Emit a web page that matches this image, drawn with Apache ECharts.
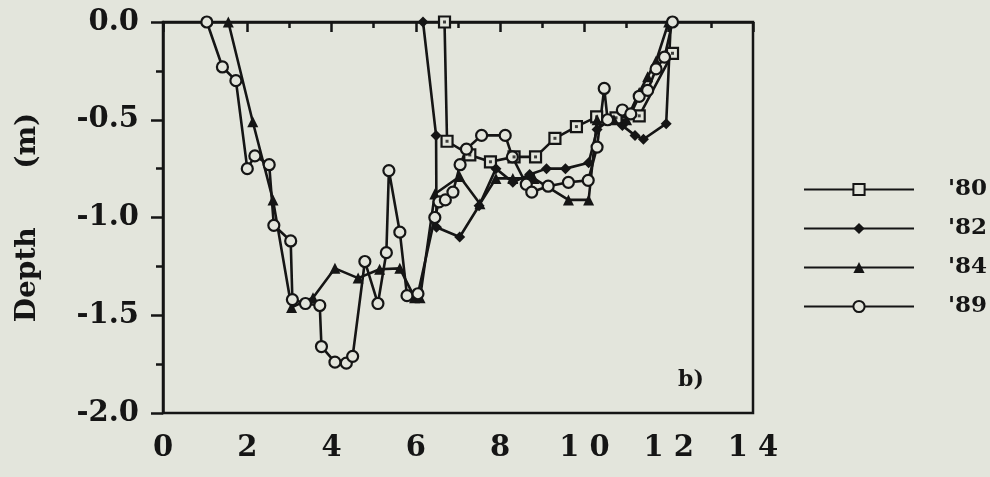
<!DOCTYPE html>
<html>

<head>
    <meta charset="utf-8" />
    <script src="https://cdn.jsdelivr.net/npm/echarts@6/dist/echarts.min.js"></script>
    <style>
        html, body { margin: 0; padding: 0; background: #e3e5dc; }
    </style>
</head>

<body>
    <div id="main" style="width: 990px; height: 477px;"></div>
    <script type="text/javascript">
        // distance along the transect and depth (m), one pair of arrays per year
        var x80 = [6.68, 6.74, 7.28, 7.77, 8.33, 8.84, 9.3, 9.81, 10.29, 10.75, 11.3, 12.09];
        var y80 = [0, -0.61, -0.68, -0.715, -0.69, -0.69, -0.595, -0.535, -0.485, -0.49, -0.48, -0.16];

        var x82 = [6.17, 6.48, 6.49, 7.04, 7.5, 7.9, 8.3, 8.7, 9.1, 9.55, 10.1, 10.3, 10.6, 10.9, 11.2, 11.4, 11.94, 12.05];
        var y82 = [0, -0.58, -1.05, -1.1, -0.94, -0.75, -0.82, -0.78, -0.75, -0.75, -0.72, -0.55, -0.5, -0.53, -0.58, -0.6, -0.52, 0];

        var x84 = [1.55, 2.13, 2.61, 3.05, 3.56, 4.08, 4.63, 5.14, 5.62, 5.97, 6.1, 6.45, 7.04, 7.52, 7.9, 8.3, 8.8, 9.62, 10.1, 10.3, 10.7, 11.0, 11.3, 11.5, 11.7, 12.0];
        var y84 = [0, -0.51, -0.91, -1.46, -1.41, -1.26, -1.31, -1.265, -1.26, -1.41, -1.41, -0.88, -0.79, -0.93, -0.8, -0.8, -0.8, -0.91, -0.91, -0.5, -0.5, -0.5, -0.36, -0.28, -0.2, 0];

        var x89 = [1.04, 1.41, 1.73, 2.0, 2.18, 2.52, 2.63, 3.03, 3.07, 3.38, 3.72, 3.76, 4.08, 4.35, 4.5, 4.79, 5.1, 5.3, 5.36, 5.62, 5.79, 6.05, 6.45, 6.55, 6.7, 6.88, 7.05, 7.2, 7.56, 8.12, 8.29, 8.62, 8.75, 9.14, 9.62, 10.09, 10.3, 10.47, 10.55, 10.9, 11.1, 11.3, 11.5, 11.7, 11.9, 12.09];
        var y89 = [0, -0.23, -0.3, -0.75, -0.685, -0.73, -1.04, -1.12, -1.42, -1.44, -1.45, -1.66, -1.74, -1.745, -1.71, -1.225, -1.44, -1.18, -0.76, -1.075, -1.4, -1.39, -1.0, -0.92, -0.91, -0.87, -0.73, -0.65, -0.58, -0.58, -0.69, -0.83, -0.87, -0.84, -0.82, -0.81, -0.64, -0.34, -0.5, -0.45, -0.47, -0.38, -0.35, -0.24, -0.18, 0];

        var years = ["'80", "'82", "'84", "'89"];
        var xLabels = ['0', '2', '4', '6', '8', '1 0', '1 2', '1 4'];
        var yLabels = ['-2.0', '-1.5', '-1.0', '-0.5', '0.0'];

        var bg = '#e3e5dc';
        var ink = '#151515';
        var font = 'DejaVu Serif';

        function pairs(xs, ys) {
            return xs.map(function (x, i) { return [x, ys[i]]; });
        }

        function lineSeries(name, xs, ys, symbol, filled) {
            return {
                name: name,
                type: 'line',
                data: pairs(xs, ys),
                symbol: symbol,
                symbolSize: 11,
                showSymbol: true,
                lineStyle: { color: ink, width: 2.6 },
                itemStyle: filled
                    ? { color: ink, borderColor: ink, borderWidth: 0 }
                    : { color: bg, borderColor: ink, borderWidth: 2.2 },
                z: 3
            };
        }

        var myChart = echarts.init(document.getElementById('main'));

        var option = {
            backgroundColor: bg,
            animation: false,
            grid: {
                left: 163, right: 237, top: 22, bottom: 64,
                show: true, borderColor: ink, borderWidth: 2.5, backgroundColor: 'transparent'
            },
            xAxis: {
                type: 'value', min: 0, max: 14, interval: 2,
                axisLine: { show: true, lineStyle: { color: ink, width: 2.5 } },
                axisTick: { show: true, inside: false, length: 10, lineStyle: { color: ink, width: 2.5 } },
                minorTick: { show: true, splitNumber: 2, length: 6, lineStyle: { color: ink, width: 2.5 } },
                splitLine: { show: false },
                axisLabel: {
                    margin: 21, color: ink, fontFamily: font, fontWeight: 'bold', fontSize: 29,
                    formatter: function (v) { return xLabels[Math.round(v / 2)]; }
                }
            },
            yAxis: {
                type: 'value', min: -2, max: 0, interval: 0.5,
                name: 'Depth      (m)', nameLocation: 'middle', nameRotate: 90, nameGap: 121,
                nameTextStyle: { color: ink, fontFamily: font, fontWeight: 'bold', fontSize: 28 },
                axisLine: { show: true, lineStyle: { color: ink, width: 2.5 } },
                axisTick: { show: true, inside: false, length: 12, lineStyle: { color: ink, width: 2.5 } },
                minorTick: { show: true, splitNumber: 2, length: 7, lineStyle: { color: ink, width: 2.5 } },
                splitLine: { show: false },
                axisLabel: {
                    margin: 24, color: ink, fontFamily: font, fontWeight: 'bold', fontSize: 29,
                    formatter: function (v) { return yLabels[Math.round((v + 2) / 0.5)]; }
                }
            },
            legend: {
                data: years,
                orient: 'vertical',
                left: 803, top: 178,
                padding: 0,
                itemWidth: 110, itemHeight: 14, itemGap: 16,
                textStyle: {
                    color: ink, fontFamily: font, fontWeight: 'bold', fontSize: 23,
                    padding: [0, 0, 0, 29]
                }
            },
            graphic: [{
                type: 'text', left: 678, top: 369,
                style: { text: 'b)', fill: ink, font: 'bold 22px "DejaVu Serif"' }
            }],
            series: [
                lineSeries(years[0], x80, y80, 'rect', false),
                lineSeries(years[1], x82, y82, 'diamond', true),
                lineSeries(years[2], x84, y84, 'triangle', true),
                lineSeries(years[3], x89, y89, 'circle', false),
                {
                    // centre dots of the '80 squares
                    name: 'dot80', type: 'scatter', data: pairs(x80, y80),
                    symbol: 'rect', symbolSize: 3, silent: true,
                    itemStyle: { color: ink }, z: 5
                }
            ]
        };

        myChart.setOption(option);
    </script>
</body>

</html>
